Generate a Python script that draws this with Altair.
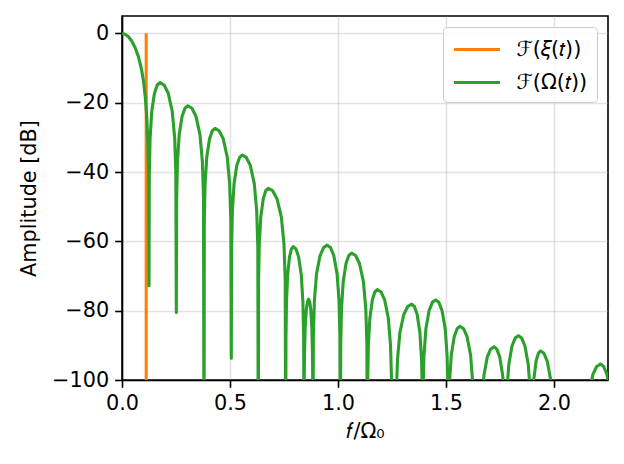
import altair as alt
import pandas as pd

# ---- data ----
XI_LABEL = "ℱ(𝜉(𝑡))"
OM_LABEL = "ℱ(Ω(𝑡))"
COLORS = ["#ff7f0e", "#2ca02c"]

xi_f = [0.112, 0.112]
xi_db = [0.0, -130.0]

main_f = [0.0, 0.015, 0.03, 0.045, 0.06, 0.075, 0.09, 0.1, 0.108, 0.115, 0.12, 0.123, 0.125]
main_db = [0.0, -0.3, -1.0, -2.2, -4.0, -6.5, -10.3, -14.0, -18.5, -24.5, -32.0, -40.0, -72.8]

side_f = [
    0.1265, 0.1301, 0.1378, 0.1505, 0.1633, 0.176, 0.1949, 0.2138, 0.2326, 0.2440, 0.2492, 0.2515,
    0.2531, 0.2569, 0.2649, 0.2783, 0.2916, 0.305, 0.3237, 0.3423, 0.3610, 0.3721, 0.3774, 0.3796,
    0.3811, 0.3847, 0.3925, 0.4053, 0.4182, 0.431, 0.4498, 0.4685, 0.4873, 0.4985, 0.5038, 0.506,
    0.5075, 0.5111, 0.5188, 0.5315, 0.5443, 0.557, 0.5755, 0.594, 0.6125, 0.6236, 0.6288, 0.631,
    0.6324, 0.6356, 0.6425, 0.654, 0.6655, 0.677, 0.6973, 0.7175, 0.7378, 0.7499, 0.7556, 0.758,
    0.7591, 0.7615, 0.7668, 0.7755, 0.7843, 0.793, 0.8054, 0.8178, 0.8302, 0.8376, 0.8411, 0.8426,
    0.8432, 0.8447, 0.8480, 0.8533, 0.8587, 0.864, 0.869, 0.874, 0.879, 0.882, 0.8834, 0.884,
    0.886, 0.8906, 0.9005, 0.917, 0.9335, 0.95, 0.9653, 0.9805, 0.9958, 1.0049, 1.0092, 1.011,
    1.0126, 1.0162, 1.024, 1.037, 1.05, 1.063, 1.0813, 1.0995, 1.1178, 1.1287, 1.1338, 1.136,
    1.1374, 1.1406, 1.1475, 1.159, 1.1705, 1.182, 1.199, 1.216, 1.233, 1.2432, 1.248, 1.25,
    1.259, 1.268,
    1.2702, 1.2753, 1.2863, 1.3045, 1.3228, 1.341, 1.3538, 1.3665, 1.3793, 1.3869, 1.3905, 1.392,
    1.3938, 1.398, 1.407, 1.422, 1.437, 1.452, 1.4668, 1.4815, 1.4963, 1.5051, 1.5092, 1.511,
    1.5126, 1.5164, 1.5245, 1.538, 1.5515, 1.565, 1.5813, 1.5975, 1.6138, 1.6235, 1.628, 1.63,
    1.645, 1.66,
    1.6619, 1.6662, 1.6755, 1.691, 1.7065, 1.722, 1.7355, 1.749, 1.7625, 1.7706, 1.7744, 1.776,
    1.7778, 1.7819, 1.7908, 1.8055, 1.8203, 1.835, 1.8503, 1.8655, 1.8808, 1.8899, 1.8942, 1.896,
    1.8973, 1.9002, 1.9065, 1.917, 1.9275, 1.938, 1.9535, 1.969, 1.9845, 1.9938, 1.9981, 2.0,
    2.145,
    2.1471, 2.152, 2.1625, 2.18, 2.1975, 2.215, 2.23, 2.245, 2.26, 2.269, 2.2732, 2.275,
]
side_db = [
    -40.7, -30.3, -22.5, -17.2, -14.9, -14.2, -14.9, -17.2, -22.5, -30.3, -40.7, -80.5,
    -47.4, -37.0, -29.2, -23.9, -21.6, -20.9, -21.6, -23.9, -29.2, -37.0, -47.4, -130.0,
    -53.9, -43.5, -35.7, -30.4, -28.1, -27.4, -28.1, -30.4, -35.7, -43.5, -53.9, -93.7,
    -61.6, -51.2, -43.4, -38.1, -35.8, -35.1, -35.8, -38.1, -43.4, -51.2, -61.6, -130.0,
    -71.2, -60.8, -53.0, -47.7, -45.4, -44.7, -45.4, -47.7, -53.0, -60.8, -71.2, -130.0,
    -88.0, -77.6, -69.8, -64.5, -62.2, -61.5, -62.2, -64.5, -69.8, -77.6, -88.0, -130.0,
    -103.2, -92.8, -85.0, -79.7, -77.4, -76.7, -77.4, -79.7, -85.0, -92.8, -103.2, -130.0,
    -87.6, -77.2, -69.4, -64.1, -61.8, -61.1, -61.8, -64.1, -69.4, -77.2, -87.6, -130.0,
    -89.9, -79.5, -71.7, -66.4, -64.1, -63.4, -64.1, -66.4, -71.7, -79.5, -89.9, -130.0,
    -100.4, -90.0, -82.2, -76.9, -74.6, -73.9, -74.6, -76.9, -82.2, -90.0, -100.4, -130.0,
    -115.0, -130.0,
    -104.6, -94.2, -86.4, -81.1, -78.8, -78.1, -78.8, -81.1, -86.4, -94.2, -104.6, -130.0,
    -103.4, -93.0, -85.2, -79.9, -77.6, -76.9, -77.6, -79.9, -85.2, -93.0, -103.4, -130.0,
    -111.0, -100.6, -92.8, -87.5, -85.2, -84.5, -85.2, -87.5, -92.8, -100.6, -111.0, -130.0,
    -115.0, -130.0,
    -116.9, -106.5, -98.7, -93.4, -91.1, -90.4, -91.1, -93.4, -98.7, -106.5, -116.9, -130.0,
    -113.7, -103.3, -95.5, -90.2, -87.9, -87.2, -87.9, -90.2, -95.5, -103.3, -113.7, -130.0,
    -118.1, -107.7, -99.9, -94.6, -92.3, -91.6, -92.3, -94.6, -99.9, -107.7, -118.1, -130.0,
    -130.0,
    -121.9, -111.5, -103.7, -98.4, -96.1, -95.4, -96.1, -98.4, -103.7, -111.5, -121.9, -130.0,
]

x_ticks = [0.0, 0.5, 1.0, 1.5, 2.0]
y_ticks = [0, -20, -40, -60, -80, -100]

# ---- tables ----
om_f = main_f + side_f
om_db = main_db + side_db
df_xi = pd.DataFrame({"f": xi_f, "db": xi_db, "series": XI_LABEL, "i": range(len(xi_f))})
df_om = pd.DataFrame({"f": om_f, "db": om_db, "series": OM_LABEL, "i": range(len(om_f))})

FONT = "DejaVu Sans"
FS = 20.8

x_enc = alt.X(
    "f:Q",
    scale=alt.Scale(domain=[0, 2.25], nice=False, zero=False),
    axis=alt.Axis(values=x_ticks, format=".1f", title="𝑓/Ω₀", grid=True, labelFlush=False),
)
y_enc = alt.Y(
    "db:Q",
    scale=alt.Scale(domain=[-100, 5], nice=False, zero=False),
    axis=alt.Axis(values=y_ticks, format="d", title="Amplitude [dB]", grid=True),
)
color_enc = alt.Color(
    "series:N",
    scale=alt.Scale(domain=[XI_LABEL, OM_LABEL], range=COLORS),
    legend=alt.Legend(
        title=None,
        orient="top-right",
        offset=11,
        symbolType="M-2,0H2",
        symbolSize=529,
        symbolStrokeWidth=3.1,
        symbolOffset=11.5,
        labelFont=FONT,
        labelFontSize=FS,
        labelOffset=26,
        rowPadding=9,
        padding=9,
        fillColor="rgba(255,255,255,0.8)",
        strokeColor="#cccccc",
        cornerRadius=4,
    ),
)

line_kw = dict(clip=True, strokeWidth=3.1, strokeJoin="round", strokeCap="butt")

xi_line = alt.Chart(df_xi).mark_line(**line_kw).encode(
    x=x_enc, y=y_enc, color=color_enc, order=alt.Order("i:Q")
)
om_line = alt.Chart(df_om).mark_line(**line_kw).encode(
    x=x_enc, y=y_enc, color=color_enc, order=alt.Order("i:Q")
)

chart = (
    alt.layer(xi_line, om_line)
    .properties(
        width=486,
        height=364,
        autosize=alt.AutoSizeParams(type="none"),
        padding={"left": 122, "top": 16, "right": 16, "bottom": 84},
    )
    .configure_view(stroke="#000000", strokeWidth=1.6)
    .configure_axis(
        domainColor="#000000",
        domainWidth=1.6,
        tickColor="#000000",
        tickWidth=1.6,
        tickSize=7.3,
        labelFont=FONT,
        labelFontSize=FS,
        labelColor="#000000",
        labelPadding=6,
        titleFont=FONT,
        titleFontSize=FS,
        titleFontWeight="normal",
        titleColor="#000000",
        gridColor="#b0b0b0",
        gridOpacity=0.35,
        gridWidth=1.6,
    )
    .configure_axisX(titlePadding=8)
    .configure_axisY(titlePadding=12)
)

chart.save("out.html", embed_options={"renderer": "svg", "actions": False})
